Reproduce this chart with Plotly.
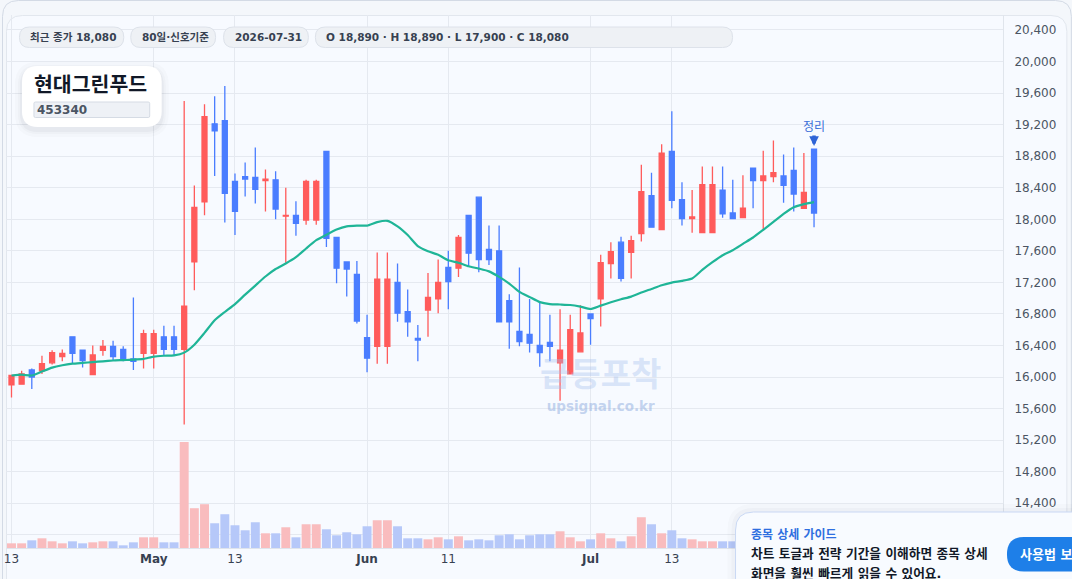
import pandas as pd
import plotly.graph_objects as go

# 80 trading days, 2026-04-13 .. 2026-07-31
dates = [d.strftime("%Y-%m-%d") for d in pd.bdate_range("2026-04-13", "2026-07-31")]

opens = [15900, 15910, 16090, 16080, 16180, 16260, 16510, 16340, 16030, 16340,
         16390, 16350, 16230, 16300, 16300, 16510, 16510, 16350, 17460, 18220,
         19210, 19250, 18480, 18540, 18530, 18490, 18500, 18040, 18050, 17990,
         17990, 18860, 17770, 17460, 17300, 16500, 16390, 16390, 17200, 16830,
         16490, 16850, 16990, 17390, 17380, 18050, 18280, 17620, 17600, 16970,
         16580, 16540, 16400, 16440, 16180, 16040, 16320, 16800, 16990, 17440,
         17710, 17580, 17820, 18300, 17870, 18860, 18250, 18010, 17830, 17830,
         18370, 18080, 18020, 18650, 18490, 18540, 18550, 18620, 18140, 18890]
highs = [16030, 16080, 16110, 16270, 16340, 16350, 16510, 16340, 16400, 16470,
         16460, 16390, 17010, 16600, 16600, 16650, 16650, 19500, 18430, 19460,
         19560, 19690, 18580, 18720, 18910, 18630, 18610, 18400, 18230, 18500,
         18500, 18860, 17770, 17460, 17470, 16790, 17580, 17580, 17440, 17110,
         16660, 17320, 17490, 17600, 17800, 18050, 18280, 17920, 17920, 17050,
         17390, 16990, 16950, 16790, 16860, 16790, 16910, 16810, 17550, 17710,
         17780, 17790, 18690, 18590, 18950, 19370, 18470, 18370, 18670, 18670,
         18670, 18500, 18560, 18650, 18870, 19000, 18820, 18910, 18840, 18890]
lows = [15740, 15910, 15850, 16040, 16160, 16200, 16170, 16120, 16030, 16270,
        16210, 16200, 16090, 16110, 16110, 16270, 16270, 15400, 17100, 18050,
        18550, 17960, 17800, 18290, 18200, 18100, 18000, 17450, 17790, 17930,
        17930, 17650, 17190, 17020, 16680, 16060, 16170, 16170, 16700, 16510,
        16200, 16510, 16810, 16860, 17270, 17400, 17330, 17420, 16700, 16360,
        16390, 16310, 16130, 16200, 15700, 16040, 16320, 16410, 16640, 17250,
        17210, 17250, 17720, 17900, 17870, 18140, 17920, 17830, 17830, 17830,
        18020, 18010, 18020, 18140, 17870, 18470, 18210, 18100, 18140, 17900]
closes = [16020, 16040, 16000, 16170, 16310, 16300, 16300, 16210, 16280, 16390,
          16260, 16230, 16200, 16550, 16550, 16350, 16350, 16900, 18150, 19300,
          19120, 18330, 18100, 18510, 18380, 18510, 18130, 18050, 17950, 18480,
          18480, 17760, 17380, 17370, 16710, 16240, 17240, 17240, 16810, 16700,
          16470, 17010, 17200, 17210, 17770, 17570, 17490, 17490, 16700, 16700,
          16450, 16430, 16310, 16390, 16340, 16600, 16560, 16740, 17450, 17590,
          17250, 17730, 18350, 17900, 18840, 18240, 18010, 18030, 18440, 18440,
          18070, 18010, 18140, 18490, 18550, 18590, 18430, 18320, 18340, 18080]
ma_line = [16020, 16030, 16020, 16070, 16120, 16150, 16170, 16180, 16190, 16200,
           16210, 16215, 16220, 16230, 16260, 16270, 16275, 16310, 16410, 16560,
           16720, 16825, 16925, 17045, 17160, 17275, 17370, 17440, 17520, 17630,
           17735, 17805, 17870, 17910, 17920, 17920, 17965, 17980, 17910, 17800,
           17660, 17595, 17550, 17480, 17450, 17405, 17375, 17340, 17270, 17185,
           17080, 17015, 16950, 16925, 16920, 16914, 16893, 16863, 16906, 16948,
           16986, 17020, 17071, 17117, 17164, 17198, 17219, 17249, 17359, 17456,
           17545, 17608, 17689, 17769, 17867, 17968, 18070, 18154, 18193, 18218]
volumes = [14000, 14000, 23000, 29000, 20000, 14000, 20000, 14000, 17000, 20000,
           20000, 8000, 17000, 32000, 32000, 17000, 17000, 317000, 119000, 131000,
           74000, 101000, 68000, 53000, 77000, 44000, 44000, 62000, 32000, 71000,
           71000, 56000, 38000, 47000, 41000, 65000, 83000, 83000, 65000, 29000,
           29000, 26000, 32000, 26000, 35000, 23000, 26000, 23000, 38000, 41000,
           26000, 38000, 41000, 41000, 50000, 32000, 20000, 26000, 44000, 29000,
           20000, 35000, 92000, 71000, 44000, 53000, 29000, 26000, 20000, 20000,
           20000, 20000, 22000, 20000, 26000, 20000, 29000, 26000, 35000, 24000]

tick_idx = [0, 14, 22, 35, 43, 57, 65]
tick_text = ["13", "<b>May</b>", "13", "<b>Jun</b>", "11", "<b>Jul</b>", "13"]
price_ticks = list(range(14000, 20401, 400))

pills = ["최근 종가 18,080", "80일·신호기준", "2026-07-31",
         "O 18,890 · H 18,890 · L 17,900 · C 18,080"]
pill_x = [(17.5, 122), (129, 214), (222, 307), (314, 732)]

RED = "#ff5b5b"
BLUE = "#4a7dff"
FONT = "DejaVu Sans, Noto Sans CJK KR, sans-serif"

# plot area in pixels: x 4..1003, y 15..548
def px(x):
    return (x - 4) / 999

def py(y):
    return (548 - y) / 533

def rrect(x0, y0, x1, y1, r):
    return (f"M {px(x0 + r)},{py(y0)} L {px(x1 - r)},{py(y0)} "
            f"Q {px(x1)},{py(y0)} {px(x1)},{py(y0 + r)} L {px(x1)},{py(y1 - r)} "
            f"Q {px(x1)},{py(y1)} {px(x1 - r)},{py(y1)} L {px(x0 + r)},{py(y1)} "
            f"Q {px(x0)},{py(y1)} {px(x0)},{py(y1 - r)} L {px(x0)},{py(y0 + r)} "
            f"Q {px(x0)},{py(y0)} {px(x0 + r)},{py(y0)} Z")

def box(x0, y0, x1, y1, r, fill, line=None, lw=1, layer="above"):
    return dict(type="path", xref="paper", yref="paper", path=rrect(x0, y0, x1, y1, r),
                fillcolor=fill, line=dict(color=line or "rgba(0,0,0,0)", width=lw if line else 0),
                layer=layer)

def label(x, y, text, size, color, xanchor="left"):
    return dict(xref="paper", yref="paper", x=px(x), y=py(y), text=text, showarrow=False,
                xanchor=xanchor, yanchor="middle", font=dict(family=FONT, size=size, color=color))

vol_colors = ["#f9bcbe" if c >= o else "#b6c8f9" for o, c in zip(opens, closes)]

fig = go.Figure()

# watermark under the candles
fig.add_trace(go.Scatter(x=[dates[58], dates[58]], y=[15990, 15610], mode="text",
                         text=["<b>급등포착</b>", "<b>upsignal.co.kr</b>"],
                         textfont=dict(family=FONT, size=[33, 13.5],
                                       color=["rgba(165,192,238,0.38)", "rgba(150,178,225,0.55)"]),
                         hoverinfo="skip", showlegend=False))

fig.add_trace(go.Bar(x=dates, y=volumes, yaxis="y2", marker=dict(color=vol_colors, line=dict(width=0)),
                     showlegend=False, hoverinfo="skip"))

fig.add_trace(go.Candlestick(x=dates, open=opens, high=highs, low=lows, close=closes,
                             increasing=dict(line=dict(color=RED, width=1.3), fillcolor=RED),
                             decreasing=dict(line=dict(color=BLUE, width=1.3), fillcolor=BLUE),
                             showlegend=False))

fig.add_trace(go.Scatter(x=dates, y=ma_line, mode="lines",
                         line=dict(color="#1fb597", width=2.2, shape="spline", smoothing=0.5),
                         showlegend=False, hoverinfo="skip"))

shapes = [
    box(4.5, 15.5, 1067, 620, 16, "#f7faff", "#e2e7ee", 1, layer="below"),
    box(0.5, 0.5, 1071.5, 640, 16, "rgba(0,0,0,0)", "#d3dae5", 1),
]
for (x0, x1) in pill_x:
    shapes.append(box(x0, 27, x1, 47.5, 10, "#eef1f5", "#dde2ea", 1))
# title card with a soft shadow
for k, a in [(7, 0.018), (4, 0.025), (2, 0.035)]:
    shapes.append(box(20 - k, 66 - k + 3, 160 + k, 127 + k + 3, 16 + k, f"rgba(30,41,59,{a})"))
shapes.append(box(20, 66, 160, 127, 16, "#ffffff"))
shapes.append(box(32, 102, 148, 117.5, 1.5, "#eef1f6", "#d5dbe4", 1))
# guide card bottom right
for k, a in [(8, 0.018), (4, 0.028)]:
    shapes.append(box(735 - k, 512 - k, 1100 + k, 620, 18 + k, f"rgba(30,41,59,{a})"))
shapes.append(box(735, 512, 1100, 620, 18, "#f8fbff", "#c9d8f4", 1))
shapes.append(box(1007, 537, 1100, 571.5, 17, "#1e7fe8"))

annotations = []
for t, (x0, x1) in zip(pills, pill_x):
    annotations.append(label(x0 + 9, 37.5, f"<b>{t}</b>", 10.5, "#374151"))
annotations += [
    label(30, 85, "<b>현대그린푸드</b>", 20.5, "#111827"),
    label(33, 109.5, "<b>453340</b>", 12, "#4b5563"),
    label(748, 534, "<b>종목 상세 가이드</b>", 12, "#2f6fe0"),
    label(748, 553, "<b>차트 토글과 전략 기간을 이해하면 종목 상세</b>", 12.7, "#111827"),
    label(748, 573, "<b>화면을 훨씬 빠르게 읽을 수 있어요.</b>", 12.7, "#111827"),
    label(1018, 554, "<b>사용법 보기</b>", 13, "#ffffff"),
    dict(x=dates[79], y=19170, text="정리", showarrow=False, yanchor="middle",
         font=dict(family=FONT, size=12, color="#3a6fd8")),
    dict(x=dates[79], y=18930, ax=0, ay=-12, text="", showarrow=True, arrowhead=2,
         arrowsize=0.55, arrowwidth=3.5, arrowcolor="#2f64d6", standoff=0),
]

fig.update_layout(
    width=1072, height=579,
    margin=dict(l=4, r=69, t=15, b=31),
    paper_bgcolor="#f4f7fb",
    plot_bgcolor="rgba(0,0,0,0)",
    font=dict(family=FONT, size=12, color="#4b5563"),
    bargap=0.12, boxgap=0.3,
    shapes=shapes, annotations=annotations,
    xaxis=dict(type="category", categoryorder="array", categoryarray=dates,
               range=[-0.54, 97.6], tickvals=[dates[i] for i in tick_idx],
               ticktext=tick_text, tickfont=dict(size=12, color="#374151"),
               showgrid=True, gridcolor="#e5e9f0", gridwidth=1, showline=True,
               linecolor="#dfe4ec", ticks="", rangeslider=dict(visible=False), fixedrange=True),
    yaxis=dict(side="right", range=[13833, 20590], tickvals=price_ticks, tickformat=",",
               tickfont=dict(size=12, color="#4b5563"), showgrid=True, gridcolor="#e5e9f0",
               showline=True, linecolor="#e0e5ec", ticks="", ticklabelstandoff=8,
               zeroline=False, fixedrange=True),
    yaxis2=dict(overlaying="y", range=[0, 1594000], visible=False, fixedrange=True),
    hovermode="x",
)

fig.write_html("out.html", config={"displayModeBar": False},
               post_script="document.body.style.margin='0';document.body.style.overflow='hidden';")
